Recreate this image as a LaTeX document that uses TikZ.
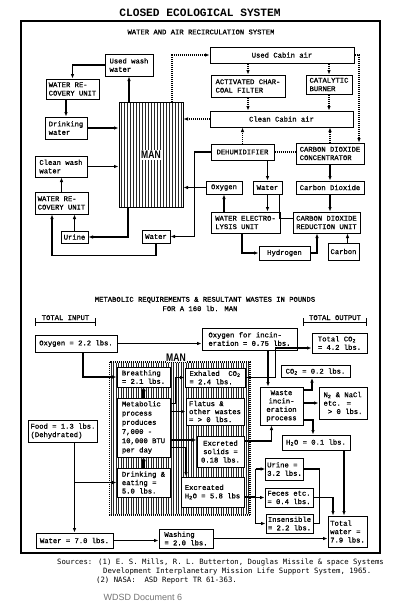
\documentclass[tikz,border=0pt]{standalone}
\usepackage{fontspec}
\usepackage{graphicx}
\usetikzlibrary{arrows.meta}
\newfontfamily\tyfont[FakeBold=0.9]{Liberation Mono}
\newfontfamily\titlefont{Liberation Mono}
\newfontfamily\srcfont{DejaVu Sans Mono}
\newfontfamily\capfont{Liberation Sans}
\newcommand\tx{\tyfont\fontsize{7.2}{8.4}\selectfont}
\newcommand\manlabel{\capfont\bfseries\fontsize{11}{12}\selectfont\scalebox{0.78}[1]{MAN}}
\newcommand\two{\textsubscript{2}}

\begin{document}
\begin{tikzpicture}[x=1pt,y=-1pt,
  bx/.style={draw, line width=1pt, fill=white, inner sep=1.5pt, font=\tx, align=left},
  bxc/.style={bx, align=center},
  ln/.style={line width=1.1pt},
  ar/.style={line width=1.1pt, -{Latex[length=4.5pt,width=3.6pt]}},
  dt/.style={line width=1.2pt, dash pattern=on 1pt off 1pt},
  dtar/.style={dt, -{Latex[length=4.5pt,width=3.6pt]}},
  fat/.style={line width=2.4pt, -{Latex[length=3.5pt,width=5pt]}},
  hatch/.style={line width=0.6pt, black!85},
  hatchb/.style={line width=0.55pt, black!85}]

\useasboundingbox (0,0) rectangle (400,611);
\fill[white] (0,0) rectangle (400,611);

% ---------- titles and frame ----------
\node[font=\titlefont\bfseries\fontsize{11.2}{12}\selectfont] (title) at (200,13) {CLOSED ECOLOGICAL SYSTEM};
\draw[line width=1.2pt] (21,21) rectangle (380,553);
\node[font=\tx] (sub1) at (201,32) {WATER AND AIR RECIRCULATION SYSTEM};

% ---------- water and air recirculation ----------
\foreach \x in {121,124,...,181} \draw[hatch] (\x,102) -- (\x,207);
\node[draw, line width=1pt, minimum width=64pt, minimum height=105pt, inner sep=0pt] (man) at (151,154.5) {};
\node[fill=white, inner sep=1pt] (manlbl) at (151,155) {\manlabel};

\node[bx, minimum width=48pt, minimum height=22pt] (uww) at (129,65) {Used wash\\water};
\node[bx, minimum width=53pt, minimum height=20pt] (wr1) at (72.5,89) {WATER RE-\\COVERY UNIT};
\node[bx, minimum width=42pt, minimum height=22pt] (dw) at (66,128) {Drinking\\water};
\node[bx, minimum width=52pt, minimum height=21pt] (cww) at (61,166.5) {Clean wash\\water};
\node[bx, minimum width=53pt, minimum height=22pt] (wr2) at (61.5,203) {WATER RE-\\COVERY UNIT};
\node[bxc, minimum width=27pt, minimum height=12pt] (urine) at (74.5,237) {Urine};
\node[bxc, minimum width=28pt, minimum height=13pt] (wat2) at (156,236.5) {Water};

\node[bxc, minimum width=144pt, minimum height=16pt] (uca) at (282,55) {Used Cabin air};
\node[bx, minimum width=74pt, minimum height=22pt] (acf) at (248,86) {ACTIVATED CHAR-\\COAL FILTER};
\node[bx, minimum width=46pt, minimum height=19pt] (cb) at (329,84.5) {CATALYTIC\\BURNER};
\node[bxc, minimum width=143pt, minimum height=16pt] (cca) at (281.5,119) {Clean Cabin air};
\node[bxc, minimum width=63pt, minimum height=16pt] (dh) at (242.5,152) {DEHUMIDIFIER};
\node[bx, minimum width=68pt, minimum height=21pt] (cdc) at (330,153.5) {CARBON DIOXIDE\\CONCENTRATOR};
\node[bxc, minimum width=36pt, minimum height=13pt] (oxy) at (224,187.5) {Oxygen};
\node[bxc, minimum width=29pt, minimum height=13pt] (wat1) at (267.5,187.5) {Water};
\node[bxc, minimum width=68pt, minimum height=13pt] (co2) at (330,187.5) {Carbon Dioxide};
\node[bx, minimum width=69pt, minimum height=21pt] (wel) at (245.5,222.5) {WATER ELECTRO-\\LYSIS UNIT};
\node[bx, minimum width=67pt, minimum height=21pt] (crd) at (326.5,222.5) {CARBON DIOXIDE\\REDUCTION UNIT};
\node[bxc, minimum width=51pt, minimum height=14pt] (hyd) at (284.5,253) {Hydrogen};
\node[bxc, minimum width=31pt, minimum height=17pt] (carb) at (343.5,251.5) {Carbon};

% water loop
\draw[ar] (uww.west) -| (wr1.north);
\draw[ar] (man.north -| uww.south) -- (uww.south);
\draw[ar] (wr1.south -| dw.north) -- (dw.north);
\draw[ar] (dw.east) -- (man.west |- dw.east);
\draw[ar] (cww.east) -- (man.west |- cww.east);
\draw[ar] (wr2.north) -- (wr2.north |- cww.south);
\draw[ar] (urine.north) -- (urine.north |- wr2.south);
\draw[ar] ([xshift=-23pt]man.south) |- (urine.east);
\draw[ar] (wat2.south) -- ++(0,12) -| ([xshift=-9.5pt]wr2.south);
\draw[ar] (dh.west) -- ++(-16,0) |- (wat2.east);
\draw[ar] (oxy.west) -- (man.east |- oxy.west);

% air loop
\draw[dtar] ([xshift=21pt]man.north) |- (uca.west);
\draw[dtar] (uca.south -| acf.north) -- (acf.north);
\draw[dtar] (uca.south -| cb.north) -- (cb.north);
\draw[dtar] (acf.south) -- (acf.south |- cca.north);
\draw[dtar] (cb.south) -- (cb.south |- cca.north);
\draw[dtar] (dh.north) -- (dh.north |- cca.south);
\draw[dtar] (cdc.north) -- (cdc.north |- cca.south);
\draw[dtar] (uca.east) -| ([xshift=29pt]cdc.north);
\draw[dt] (dh.east) -- (cdc.west |- dh.east);
\draw[dtar] (cca.west) -- (man.east |- cca.west);

% regeneration
\draw[ar] (wat1.north |- dh.south) -- (wat1.north);
\draw[ar] (cdc.south) -- (co2.north);
\draw[ar] (wel.north -| oxy.south) -- (oxy.south);
\draw[ar] (wat1.south) -- (wat1.south |- wel.north);
\draw[ln] ([yshift=4pt]crd.west) -| ([xshift=12pt]wat1.south);
\draw[ar] (co2.south) -- (co2.south |- crd.north);
\draw[ar] ([xshift=-3.5pt]wel.south) |- (hyd.west);
\draw[ar] (hyd.east) -| ([xshift=-9.5pt]crd.south);
\draw[ar] ([xshift=4pt]carb.north) -- ([xshift=4pt]carb.north |- crd.south);

% ---------- metabolic balance ----------
\node[font=\tx] (sub2) at (205,300) {METABOLIC REQUIREMENTS \& RESULTANT WASTES IN POUNDS};
\node[font=\tx] (sub3) at (200,308.5) {FOR A 160 lb. MAN};

\node[font=\tx, anchor=base] (tin) at (65.5,320) {TOTAL INPUT};
\draw[line width=0.8pt] (35,318) -- (35,326) (35,322) -- (95,322) (95,318) -- (95,326);
\node[font=\tx, anchor=base] (tout) at (335,320) {TOTAL OUTPUT};
\draw[line width=0.8pt] (303,318) -- (303,326) (303,322) -- (366,322) (366,318) -- (366,326);

% the man: hatched area with dotted outline
\foreach \x in {111,113.5,...,248.5} \draw[hatchb] (\x,363) -- (\x,514);
\draw[dt] (109.5,362) rectangle (250,515);
\node[fill=white, inner sep=0.6pt] (man2) at (176,358) {\manlabel};

\node[bx, minimum width=82pt, minimum height=17pt] (ox22) at (76,343.5) {Oxygen = 2.2 lbs.};
\node[bx, minimum width=95pt, minimum height=22pt] (oxin) at (249.5,339) {Oxygen for incin-\\eration = 0.75 lbs.};
\node[bx, minimum width=55pt, minimum height=20pt] (tco2) at (339.5,343) {Total CO\two\\= 4.2 lbs.};
\node[bxc, minimum width=69pt, minimum height=12pt] (co2b) at (315.5,371.5) {CO\two{} = 0.2 lbs.};
\node[bx, minimum width=53pt, minimum height=20pt] (brth) at (143.5,377) {Breathing\\= 2.1 lbs.};
\node[bx, minimum width=60pt, minimum height=19pt] (exh) at (215,377.5) {Exhaled~~CO\two\\= 2.4 lbs.};
\node[bx, minimum width=53pt, minimum height=59pt, font=\tyfont\fontsize{7.2}{9.2}\selectfont] (meta) at (143.5,427.5) {Metabolic\\process\\produces\\7,000 -\\10,000 BTU\\per day};
\node[bx, minimum width=58pt, minimum height=27pt, font=\tyfont\fontsize{7.2}{8}\selectfont] (flat) at (215,411.5) {Flatus \&\\other wastes\\= > 0 lbs.};
\node[bxc, minimum width=43pt, minimum height=38pt] (wst) at (281.5,406) {Waste\\incin-\\eration\\process};
\node[bx, minimum width=48pt, minimum height=32pt] (n2) at (343,403) {N\two{} \& NaCl\\etc. =\\~> 0 lbs.};
\node[bxc, minimum width=47pt, minimum height=31pt] (exs) at (220.5,451.5) {Excreted\\solids =\\0.18 lbs.};
\node[bxc, minimum width=68pt, minimum height=15pt] (h2o) at (316,442.5) {H\two O = 0.1 lbs.};
\node[bx, minimum width=69pt, minimum height=22pt] (food) at (63,431) {Food = 1.3 lbs.\\(Dehydrated)};
\node[bx, minimum width=53pt, minimum height=29pt] (dre) at (143.5,482.5) {Drinking \&\\eating =\\5.0 lbs.};
\node[bx, minimum width=63pt, minimum height=30pt] (exw) at (212.5,492) {Excreated\\H\two O = 5.8 lbs};
\node[bx, minimum width=37pt, minimum height=22pt] (uri) at (284.5,469) {Urine =\\3.2 lbs.};
\node[bx, minimum width=48pt, minimum height=19pt] (fec) at (289,497.5) {Feces etc.\\= 0.4 lbs.};
\node[bx, minimum width=47pt, minimum height=19pt] (ins) at (289.5,523.5) {Insensible\\= 2.2 lbs.};
\node[bx, minimum width=39pt, minimum height=31pt] (tw) at (347.5,531.5) {Total\\water =\\7.9 lbs.};
\node[bxc, minimum width=77pt, minimum height=15pt] (w70) at (74.5,540.5) {Water = 7.0 lbs.};
\node[bx, minimum width=54pt, minimum height=19pt] (wsh) at (186,538.5) {Washing\\= 2.0 lbs.};

% inputs
\draw[ar] (ox22.east) -- (oxin.west |- ox22.east);
\draw[ar] ([xshift=7pt]ox22.south) |- (brth.west);
\draw[ar] (food.south -| w70.north) -- (w70.north);
\draw[ar] (w70.north |- dre.west) -- (dre.west);
\draw[ar] (w70.east) -- (wsh.west |- w70.east);

% inside the man
\draw[fat] (meta.north) -- (brth.south);
\draw[fat] (dre.north) -- (meta.south);
\draw[ar] ([yshift=24pt]meta.east) -- ++(5,0) |- (exh.west);
\draw[ar] (meta.east |- flat.west) -- (flat.west);
\draw[ar] ([yshift=-12.5pt]meta.east) -- ([yshift=11.5pt]exs.west);
\draw[ar] ([yshift=-20pt]meta.east) -| ([xshift=-26.5pt]exw.north);

% incineration and outputs
\draw[ar] ([xshift=-13.5pt]wst.north |- oxin.south) -- ([xshift=-13.5pt]wst.north);
\draw[ar] (exh.east) -- ++(30,0) |- ([yshift=-5pt]tco2.west);
\draw[ar] ([yshift=16pt]wst.east) -| ([xshift=-3.5pt]co2b.south);
\draw[ar] ([yshift=3pt]wst.east) -- (n2.west);
\draw[ar] ([yshift=-14pt]wst.east) -| ([xshift=-3pt]h2o.north);
\draw[ar] ([yshift=10.5pt]exs.east) -| ([xshift=-10pt]wst.south);
\draw[ar] ([xshift=28pt]h2o.south) -- ([xshift=-3.5pt]tw.north);

% water outputs
\draw[ln] ([yshift=-5pt]exw.east) -- ++(11,0);
\draw[ln] ([xshift=11pt]exw.east |- uri.west) -- ([xshift=11pt]exw.east |- ins.west);
\draw[ar] ([xshift=11pt]exw.east |- uri.west) -- (uri.west);
\draw[ar] ([xshift=11pt]exw.east |- fec.west) -- (fec.west);
\draw[ar] ([xshift=11pt]exw.east |- ins.west) -- (ins.west);
\draw[ln] (uri.east) -- ([xshift=6pt]fec.east |- uri.east) -- ([xshift=6pt]fec.east |- ins.east) -- (ins.east);
\draw[ar] (fec.east) -| ([xshift=-14.5pt]tw.north);
\draw[ar] (wsh.east) -- (tw.west |- wsh.east);

% ---------- sources ----------
\node[font=\srcfont\fontsize{7.3}{8}\selectfont, anchor=west, inner sep=0pt] (src1) at (57,562.5) {Sources: (1) E. S. Mills, R. L. Butterton, Douglas Missile \& space Systems};
\node[font=\srcfont\fontsize{7.3}{8}\selectfont, anchor=west, inner sep=0pt] (src2) at (103,571) {Development Interplanetary Mission Life Support System, 1965.};
\node[font=\srcfont\fontsize{7.3}{8}\selectfont, anchor=west, inner sep=0pt] (src3) at (96,580) {(2) NASA:~~ASD Report TR 61-363.};
\node[font=\capfont\fontsize{9}{10}\selectfont, text=black!55] (doc) at (143,597) {WDSD Document 6};
\end{tikzpicture}
\end{document}
